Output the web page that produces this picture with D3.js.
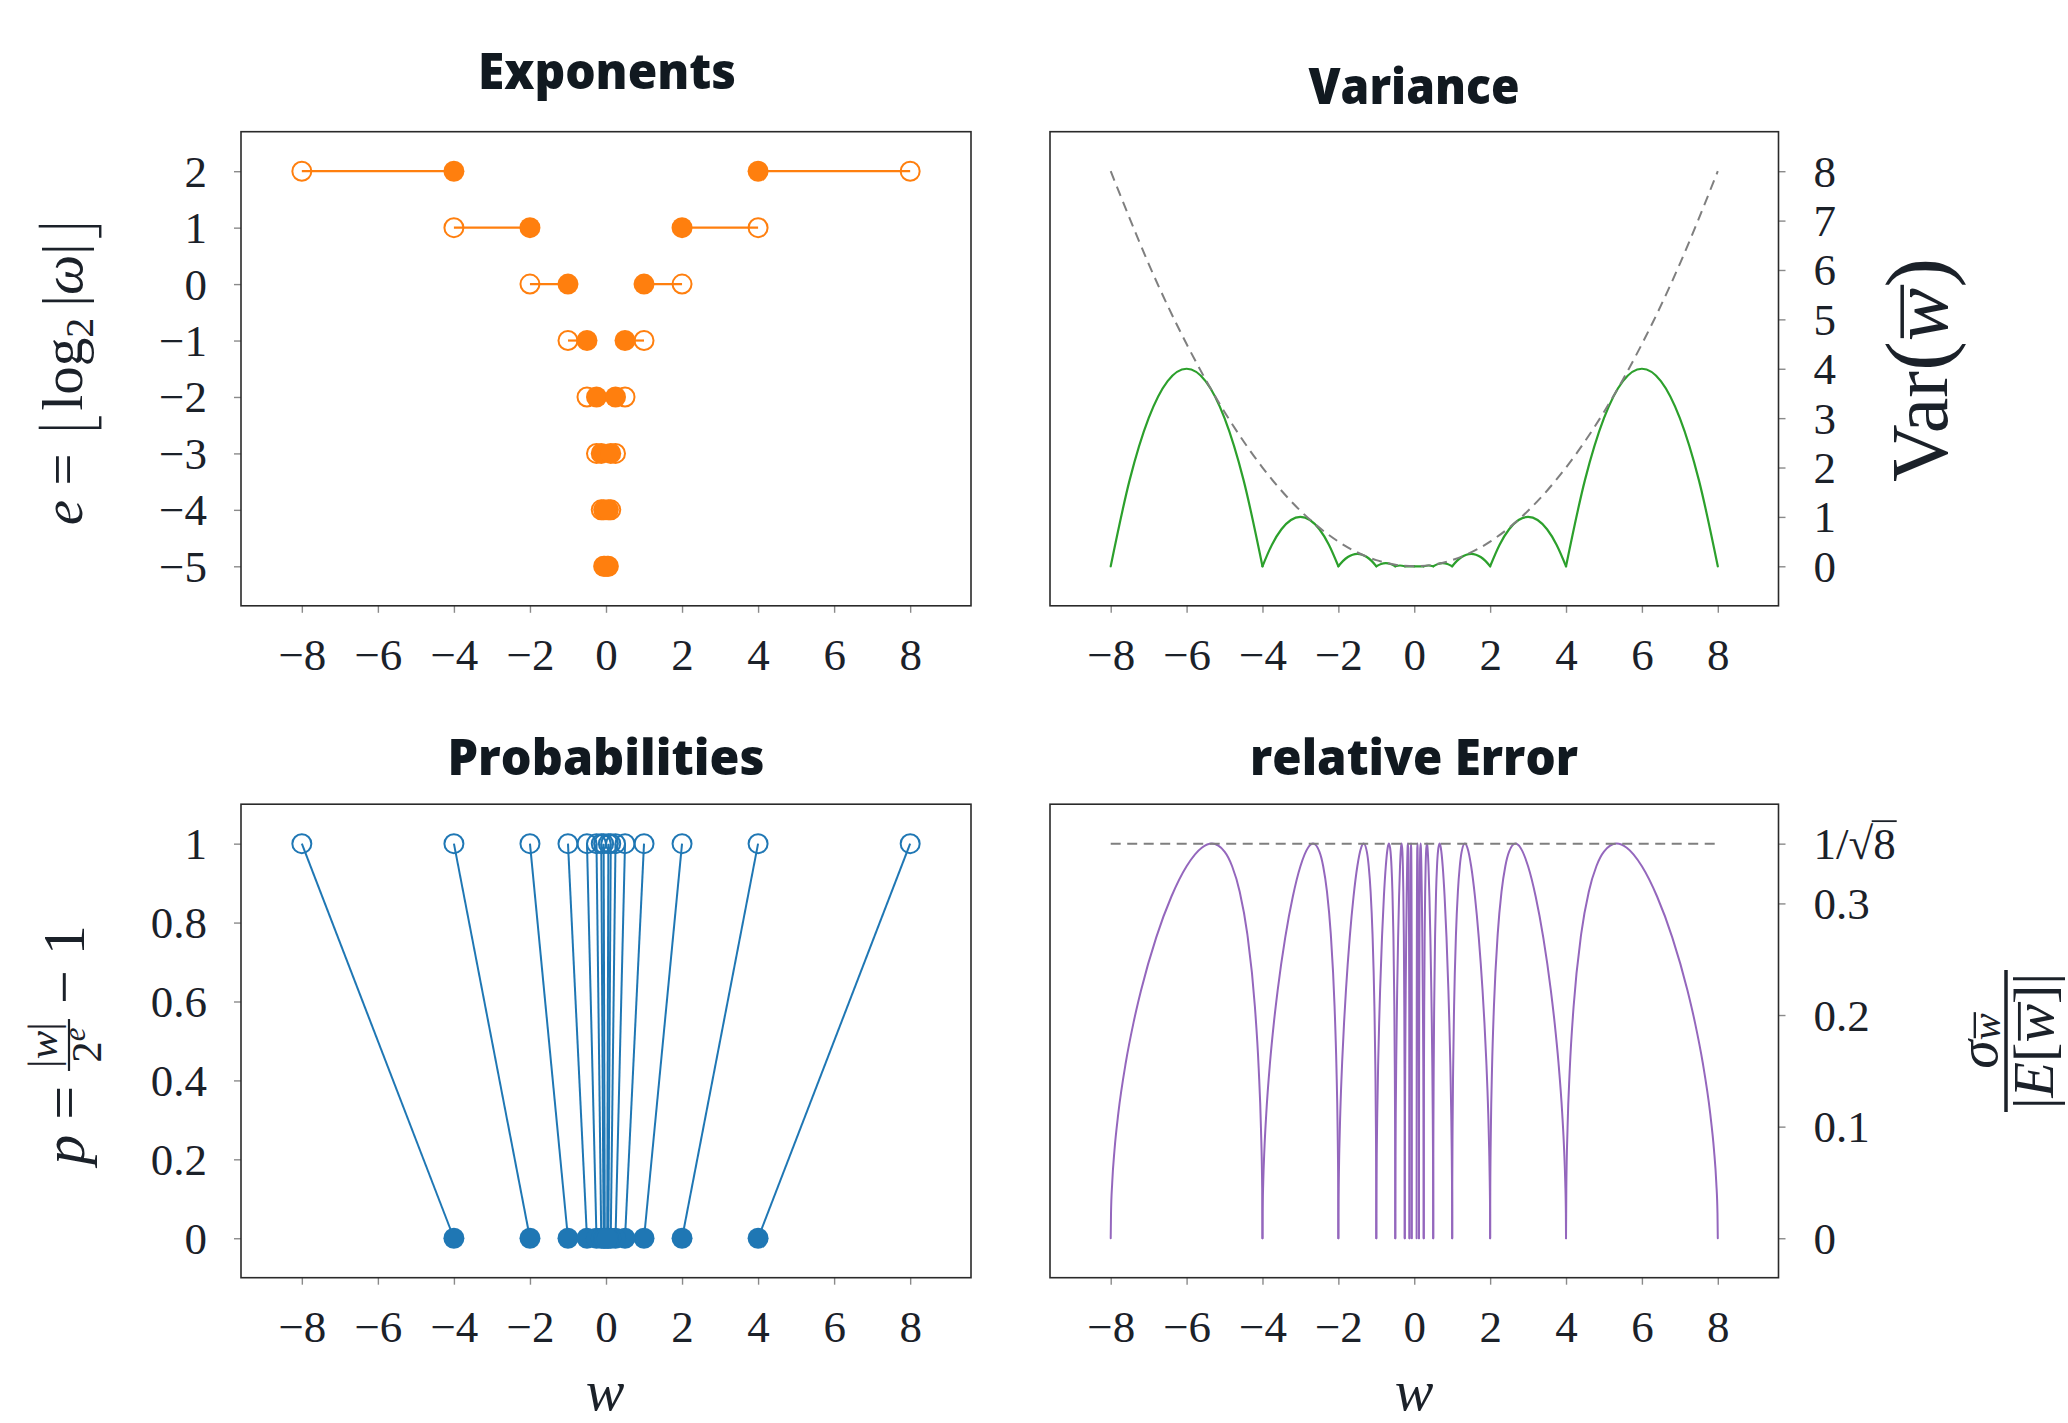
<!DOCTYPE html>
<html>
<head>
<meta charset="utf-8">
<script src="https://cdn.jsdelivr.net/npm/d3@7/dist/d3.min.js"></script>
<style>
html,body{margin:0;padding:0;background:#fff;}
svg{display:block;}
</style>
</head>
<body>
<svg id="chart" width="2068" height="1423"></svg>
<script>
// ---------------- data ----------------
const xTickValues = [-8, -6, -4, -2, 0, 2, 4, 6, 8];

// Exponents panel: each exponent level e covers |w| in [low, high)
const expLevels = [2, 1, 0, -1, -2, -3, -4, -5];
const expLow    = [4, 2, 1, 0.5, 0.25, 0.125, 0.0625, 0.03125];
const expHigh   = [8, 4, 2, 1, 0.5, 0.25, 0.125, 0.0625];

// Probabilities panel: p = 1 at the upper end, p = 0 at the lower end
const probAtOne  = [8, 4, 2, 1, 0.5, 0.25, 0.125, 0.0625];
const probAtZero = [4, 2, 1, 0.5, 0.25, 0.125, 0.0625, 0.03125];
const probTicks = [0, 0.2, 0.4, 0.6, 0.8, 1];
const probTickLabels = ["0", "0.2", "0.4", "0.6", "0.8", "1"];

// Variance panel (positive side, mirrored for w < 0)
const varTicks = [0, 1, 2, 3, 4, 5, 6, 7, 8];
const varHumpX = [
  [4, 4.5, 5, 5.5, 6, 6.5, 7, 7.5, 8],
  [2, 2.25, 2.5, 2.75, 3, 3.25, 3.5, 3.75, 4],
  [1, 1.125, 1.25, 1.375, 1.5, 1.625, 1.75, 1.875, 2],
  [0.5, 0.625, 0.75, 0.875, 1],
  [0.25, 0.375, 0.5],
  [0, 0.25]
];
const varHumpY = [
  [0, 1.75, 3, 3.75, 4, 3.75, 3, 1.75, 0],
  [0, 0.4375, 0.75, 0.9375, 1, 0.9375, 0.75, 0.4375, 0],
  [0, 0.1094, 0.1875, 0.2344, 0.25, 0.2344, 0.1875, 0.1094, 0],
  [0, 0.0469, 0.0625, 0.0469, 0],
  [0, 0.0156, 0],
  [0, 0]
];
const varBoundX = [-8,-7,-6,-5,-4,-3,-2,-1,0,1,2,3,4,5,6,7,8];
const varBoundY = [8,6.125,4.5,3.125,2,1.125,0.5,0.125,0,0.125,0.5,1.125,2,3.125,4.5,6.125,8];

// relative Error panel: every hump has the same shape on [a, 2a]
const relHumpStart = [4, 2, 1, 0.5, 0.25, 0.125, 0.0625];
const relShapeT = [1, 1.002, 1.01, 1.025, 1.05, 1.1, 1.15, 1.2, 1.25, 1.3333, 1.4, 1.5, 1.6, 1.7, 1.8, 1.85, 1.9, 1.95, 1.975, 1.99, 1.998, 2];
const relShapeV = [0, 0.0446, 0.0985, 0.1523, 0.2076, 0.2727, 0.3105, 0.3333, 0.3464, 0.3536, 0.3499, 0.3333, 0.3062, 0.2696, 0.2222, 0.1930, 0.1579, 0.1118, 0.0791, 0.0500, 0.0224, 0];
const relBound = 0.35355;
const relTicks = [0, 0.1, 0.2, 0.3, 0.35355];
const relTickLabels = ["0", "0.1", "0.2", "0.3", "1/√8"];

const expTicks = [2, 1, 0, -1, -2, -3, -4, -5];
const titles = ["Exponents", "Variance", "Probabilities", "relative Error"];

// ---------------- style / layout ----------------
const serif = "'Liberation Serif', 'Times New Roman', 'DejaVu Serif', serif";
const sans = "'Open Sans', 'Noto Sans', sans-serif";
const ink = "#1b2129";
const titleInk = "#111920";
const frameColor = "#2a2a2a";
const tickColor = "#8a8a8a";
const C = {orange: "#ff7f0e", blue: "#1f77b4", green: "#2ca02c", purple: "#9467bd", gray: "#7f7f7f"};
const tickFont = 45;

const P = [
  {x0: 241, x1: 971, y0: 131.7, y1: 605.8},
  {x0: 1050, x1: 1778.5, y0: 131.7, y1: 605.8},
  {x0: 241, x1: 971, y0: 804.2, y1: 1277.7},
  {x0: 1050, x1: 1778.5, y0: 804.2, y1: 1277.7}
];
const yDomains = [[-5.7, 2.7], [-0.8, 8.8], [-0.1, 1.1], [-0.035355, 0.388905]];
const titlePos = [{x: 607, y: 89, w: 258}, {x: 1414, y: 104, w: 211}, {x: 606, y: 775, w: 317}, {x: 1414, y: 775, w: 328}];

const svg = d3.select("#chart");
svg.append("rect").attr("width", 2068).attr("height", 1423).attr("fill", "#fff");

const xs = P.map(p => d3.scaleLinear().domain([-9.6, 9.6]).range([p.x0, p.x1]));
const ys = P.map((p, i) => d3.scaleLinear().domain(yDomains[i]).range([p.y1, p.y0]));

const fmtMinus = d => d < 0 ? "\u2212" + (-d) : String(d);

function drawAxes(i, yTickVals, yTickFmt, side) {
  const p = P[i], x = xs[i], y = ys[i];
  const gx = svg.append("g").attr("transform", `translate(0,${p.y1})`)
    .call(d3.axisBottom(x).tickValues(xTickValues).tickSize(7).tickFormat(fmtMinus));
  gx.select(".domain").remove();
  gx.selectAll("line").attr("stroke", tickColor).attr("stroke-width", 1.4);
  gx.selectAll("text").attr("y", 64).attr("dy", null)
    .attr("font-size", tickFont).attr("font-family", serif).attr("fill", ink);

  const axis = side === "left" ? d3.axisLeft(y) : d3.axisRight(y);
  const gy = svg.append("g").attr("transform", `translate(${side === "left" ? p.x0 : p.x1},0)`)
    .call(axis.tickValues(yTickVals).tickSize(7).tickFormat(yTickFmt));
  gy.select(".domain").remove();
  gy.selectAll("line").attr("stroke", tickColor).attr("stroke-width", 1.4);
  gy.selectAll("text").attr("x", side === "left" ? -34 : 35).attr("y", 15).attr("dy", null)
    .attr("font-size", tickFont).attr("font-family", serif).attr("fill", ink)
    .attr("text-anchor", side === "left" ? "end" : "start");
  return gy;
}

function drawFrame(i) {
  const p = P[i];
  svg.append("rect").attr("x", p.x0).attr("y", p.y0).attr("width", p.x1 - p.x0).attr("height", p.y1 - p.y0)
    .attr("fill", "none").attr("stroke", frameColor).attr("stroke-width", 1.6);
}

// ---------- titles ----------
titles.forEach((t, i) => {
  const tp = titlePos[i];
  svg.append("text").attr("x", tp.x - tp.w / 2).attr("y", tp.y)
    .attr("font-family", sans).attr("font-weight", 800).attr("font-size", 50)
    .attr("fill", titleInk).attr("textLength", tp.w).attr("lengthAdjust", "spacingAndGlyphs")
    .text(t);
});

// ---------- Panel 0: Exponents ----------
{
  const x = xs[0], y = ys[0];
  drawAxes(0, expTicks, fmtMinus, "left");
  const g = svg.append("g");
  expLevels.forEach((e, k) => {
    [-1, 1].forEach(s => {
      g.append("line").attr("x1", x(s * expLow[k])).attr("x2", x(s * expHigh[k]))
        .attr("y1", y(e)).attr("y2", y(e)).attr("stroke", C.orange).attr("stroke-width", 2.2);
    });
  });
  expLevels.forEach((e, k) => {
    [-1, 1].forEach(s => {
      g.append("circle").attr("cx", x(s * expHigh[k])).attr("cy", y(e)).attr("r", 9.5)
        .attr("fill", "none").attr("stroke", C.orange).attr("stroke-width", 2);
    });
  });
  expLevels.forEach((e, k) => {
    [-1, 1].forEach(s => {
      g.append("circle").attr("cx", x(s * expLow[k])).attr("cy", y(e)).attr("r", 10.5)
        .attr("fill", C.orange);
    });
  });
  drawFrame(0);
}

// ---------- Panel 1: Variance ----------
{
  const x = xs[1], y = ys[1];
  drawAxes(1, varTicks, d => String(d), "right");
  const g = svg.append("g");
  const line = d3.line().x(d => x(d[0])).y(d => y(d[1])).curve(d3.curveMonotoneX);
  varHumpX.forEach((hx, k) => {
    [-1, 1].forEach(s => {
      const pts = hx.map((v, j) => [s * v, varHumpY[k][j]]).sort((a, b) => a[0] - b[0]);
      g.append("path").attr("d", line(pts)).attr("fill", "none")
        .attr("stroke", C.green).attr("stroke-width", 2.2).attr("stroke-linecap", "round");
    });
  });
  const bline = d3.line().x(d => x(d[0])).y(d => y(d[1])).curve(d3.curveNatural);
  g.append("path").attr("d", bline(varBoundX.map((v, j) => [v, varBoundY[j]])))
    .attr("fill", "none").attr("stroke", C.gray).attr("stroke-width", 2).attr("stroke-dasharray", "10,6.5");
  drawFrame(1);
}

// ---------- Panel 2: Probabilities ----------
{
  const x = xs[2], y = ys[2];
  drawAxes(2, probTicks, (d, k) => probTickLabels[k], "left");
  const g = svg.append("g");
  probAtOne.forEach((hi, k) => {
    [-1, 1].forEach(s => {
      g.append("line").attr("x1", x(s * hi)).attr("y1", y(1)).attr("x2", x(s * probAtZero[k])).attr("y2", y(0))
        .attr("stroke", C.blue).attr("stroke-width", 2);
    });
  });
  probAtOne.forEach(hi => {
    [-1, 1].forEach(s => {
      g.append("circle").attr("cx", x(s * hi)).attr("cy", y(1)).attr("r", 9.5)
        .attr("fill", "none").attr("stroke", C.blue).attr("stroke-width", 2);
    });
  });
  probAtZero.forEach(lo => {
    [-1, 1].forEach(s => {
      g.append("circle").attr("cx", x(s * lo)).attr("cy", y(0)).attr("r", 10.5).attr("fill", C.blue);
    });
  });
  drawFrame(2);
}

// ---------- Panel 3: relative Error ----------
{
  const x = xs[3], y = ys[3];
  const gy = drawAxes(3, relTicks, (d, k) => relTickLabels[k], "right");
  gy.selectAll(".tick").filter(d => d === relBound).each(function () {
    const tick = d3.select(this);
    const txt = tick.select("text");
    txt.text(null);
    txt.append("tspan").text("1/");
    txt.append("tspan").text("\u221A");
    txt.append("tspan").text("8");
    const r = txt.node().getExtentOfChar(3);
    const rr = txt.node().getExtentOfChar(2);
    tick.append("line").attr("x1", rr.x + rr.width - 1.5).attr("x2", r.x + r.width + 1)
      .attr("y1", 15 - 38).attr("y2", 15 - 38).attr("stroke", ink).attr("stroke-width", 1.8);
  });
  const g = svg.append("g");
  const line = d3.line().x(d => x(d[0])).y(d => y(d[1])).curve(d3.curveMonotoneX);
  relHumpStart.forEach(a => {
    [-1, 1].forEach(s => {
      const pts = relShapeT.map((t, j) => [s * a * t, relShapeV[j]]).sort((u, v) => u[0] - v[0]);
      g.append("path").attr("d", line(pts)).attr("fill", "none")
        .attr("stroke", C.purple).attr("stroke-width", 2).attr("stroke-linecap", "round");
    });
  });
  g.append("line").attr("x1", x(-8)).attr("x2", x(8)).attr("y1", y(relBound)).attr("y2", y(relBound))
    .attr("stroke", C.gray).attr("stroke-width", 2).attr("stroke-dasharray", "10,6.5");
  drawFrame(3);
}

// ---------- axis labels ----------
[605, 1414].forEach(cx => {
  svg.append("text").attr("x", cx).attr("y", 1410).attr("text-anchor", "middle")
    .attr("font-family", serif).attr("font-style", "italic").attr("font-size", 58).attr("fill", ink).text("w");
});

// e = floor(log2 |omega|)
{
  const outer = svg.append("g").attr("transform", "translate(82,370) rotate(-90)");
  const g = outer.append("g");
  const fs = 57;
  const t = g.append("text").attr("font-family", serif).attr("font-size", fs).attr("fill", ink);
  t.append("tspan").attr("font-style", "italic").text("e");               // 0
  t.append("tspan").text("\u2005=\u2005");                                 // 1,2,3
  t.append("tspan").text("\u2002");                                        // 4 (left bracket slot)
  t.append("tspan").text("log");                                           // 5,6,7
  t.append("tspan").attr("font-size", fs * 0.7).attr("dy", fs * 0.2).text("2"); // 8
  t.append("tspan").attr("dy", -fs * 0.2).text("\u2009|");               // 9,10
  t.append("tspan").attr("font-style", "italic").text("\u03C9");          // 11
  t.append("tspan").text("|\u2002");                                       // 12,13
  const n = t.node();
  const L = n.getExtentOfChar(4), R = n.getExtentOfChar(13);
  const top = -0.76 * fs, bot = 0.32 * fs, foot = 0.2 * fs;
  const lx = L.x + L.width * 0.4, rx = R.x + R.width * 0.6;
  g.append("path").attr("d", `M${lx},${top}V${bot}H${lx + foot}`).attr("fill", "none").attr("stroke", ink).attr("stroke-width", 2.4);
  g.append("path").attr("d", `M${rx},${top}V${bot}H${rx - foot}`).attr("fill", "none").attr("stroke", ink).attr("stroke-width", 2.4);
  const total = n.getComputedTextLength();
  g.attr("transform", `translate(${-total / 2},0)`);
}

// p = |w| / 2^e - 1
{
  const outer = svg.append("g").attr("transform", "translate(84,1045) rotate(-90)");
  const g = outer.append("g");
  const fs = 60, sfs = 43;
  const axisY = -0.25 * fs;
  const t1 = g.append("text").attr("font-family", serif).attr("font-size", fs).attr("fill", ink);
  t1.append("tspan").attr("font-style", "italic").text("p");
  t1.append("tspan").text("\u2005=\u2005");
  const w1 = t1.node().getComputedTextLength();
  const num = g.append("text").attr("font-family", serif).attr("font-size", sfs).attr("fill", ink)
    .attr("text-anchor", "middle").attr("y", axisY - 12);
  num.append("tspan").text("|");
  num.append("tspan").attr("font-style", "italic").text("w");
  num.append("tspan").text("|");
  const den = g.append("text").attr("font-family", serif).attr("font-size", sfs).attr("fill", ink)
    .attr("text-anchor", "middle").attr("y", axisY + 32);
  den.append("tspan").text("2");
  den.append("tspan").attr("font-style", "italic").attr("font-size", sfs * 0.72).attr("dy", -sfs * 0.38).text("e");
  const fw = Math.max(num.node().getComputedTextLength(), den.node().getComputedTextLength()) + 6;
  num.attr("x", w1 + fw / 2);
  den.attr("x", w1 + fw / 2);
  g.append("line").attr("x1", w1).attr("x2", w1 + fw).attr("y1", axisY).attr("y2", axisY)
    .attr("stroke", ink).attr("stroke-width", 2.2);
  const t2 = g.append("text").attr("font-family", serif).attr("font-size", fs).attr("fill", ink)
    .attr("x", w1 + fw).text("\u2005\u2212\u20051");
  const total = w1 + fw + t2.node().getComputedTextLength();
  g.attr("transform", `translate(${-total / 2},0)`);
}

// Var(w-bar)
{
  const g = svg.append("g").attr("transform", "translate(1947,370) rotate(-90)");
  const fs = 80;
  const t = g.append("text").attr("font-family", serif).attr("font-size", fs).attr("fill", ink)
    .attr("text-anchor", "middle");
  t.append("tspan").text("Var");
  t.append("tspan").attr("font-size", fs * 1.12).text("(");
  t.append("tspan").attr("font-style", "italic").text("w");
  t.append("tspan").attr("font-size", fs * 1.12).text(")");
  const r = t.node().getExtentOfChar(4);
  g.append("line").attr("x1", r.x + 3).attr("x2", r.x + r.width + 3)
    .attr("y1", -0.56 * fs).attr("y2", -0.56 * fs).attr("stroke", ink).attr("stroke-width", 3.5);
}

// sigma / |E[w]|
{
  const g = svg.append("g").attr("transform", "translate(2006,1041) rotate(-90)");
  const fs = 58;
  g.append("line").attr("x1", -71).attr("x2", 71).attr("y1", 0).attr("y2", 0)
    .attr("stroke", ink).attr("stroke-width", 3.5);
  const tn = g.append("text").attr("font-family", serif).attr("font-size", fs).attr("fill", ink)
    .attr("text-anchor", "middle").attr("y", -9);
  tn.append("tspan").attr("font-style", "italic").text("\u03C3");
  tn.append("tspan").attr("font-style", "italic").attr("font-size", fs * 0.7).attr("dy", 3).text("w");
  const rn = tn.node().getExtentOfChar(1);
  g.append("line").attr("x1", rn.x + 2).attr("x2", rn.x + rn.width + 1)
    .attr("y1", -9 + 3 - 0.62 * fs * 0.7).attr("y2", -9 + 3 - 0.62 * fs * 0.7)
    .attr("stroke", ink).attr("stroke-width", 2.4);
  const td = g.append("text").attr("font-family", serif).attr("font-size", fs).attr("fill", ink)
    .attr("text-anchor", "middle").attr("y", 47);
  td.append("tspan").text("|");
  td.append("tspan").attr("font-style", "italic").text("E");
  td.append("tspan").text("[");
  td.append("tspan").attr("font-style", "italic").text("w");
  td.append("tspan").text("]|");
  const rd = td.node().getExtentOfChar(3);
  g.append("line").attr("x1", rd.x + 2).attr("x2", rd.x + rd.width + 2)
    .attr("y1", 47 - 0.58 * fs).attr("y2", 47 - 0.58 * fs).attr("stroke", ink).attr("stroke-width", 2.8);
}
</script>
</body>
</html>
